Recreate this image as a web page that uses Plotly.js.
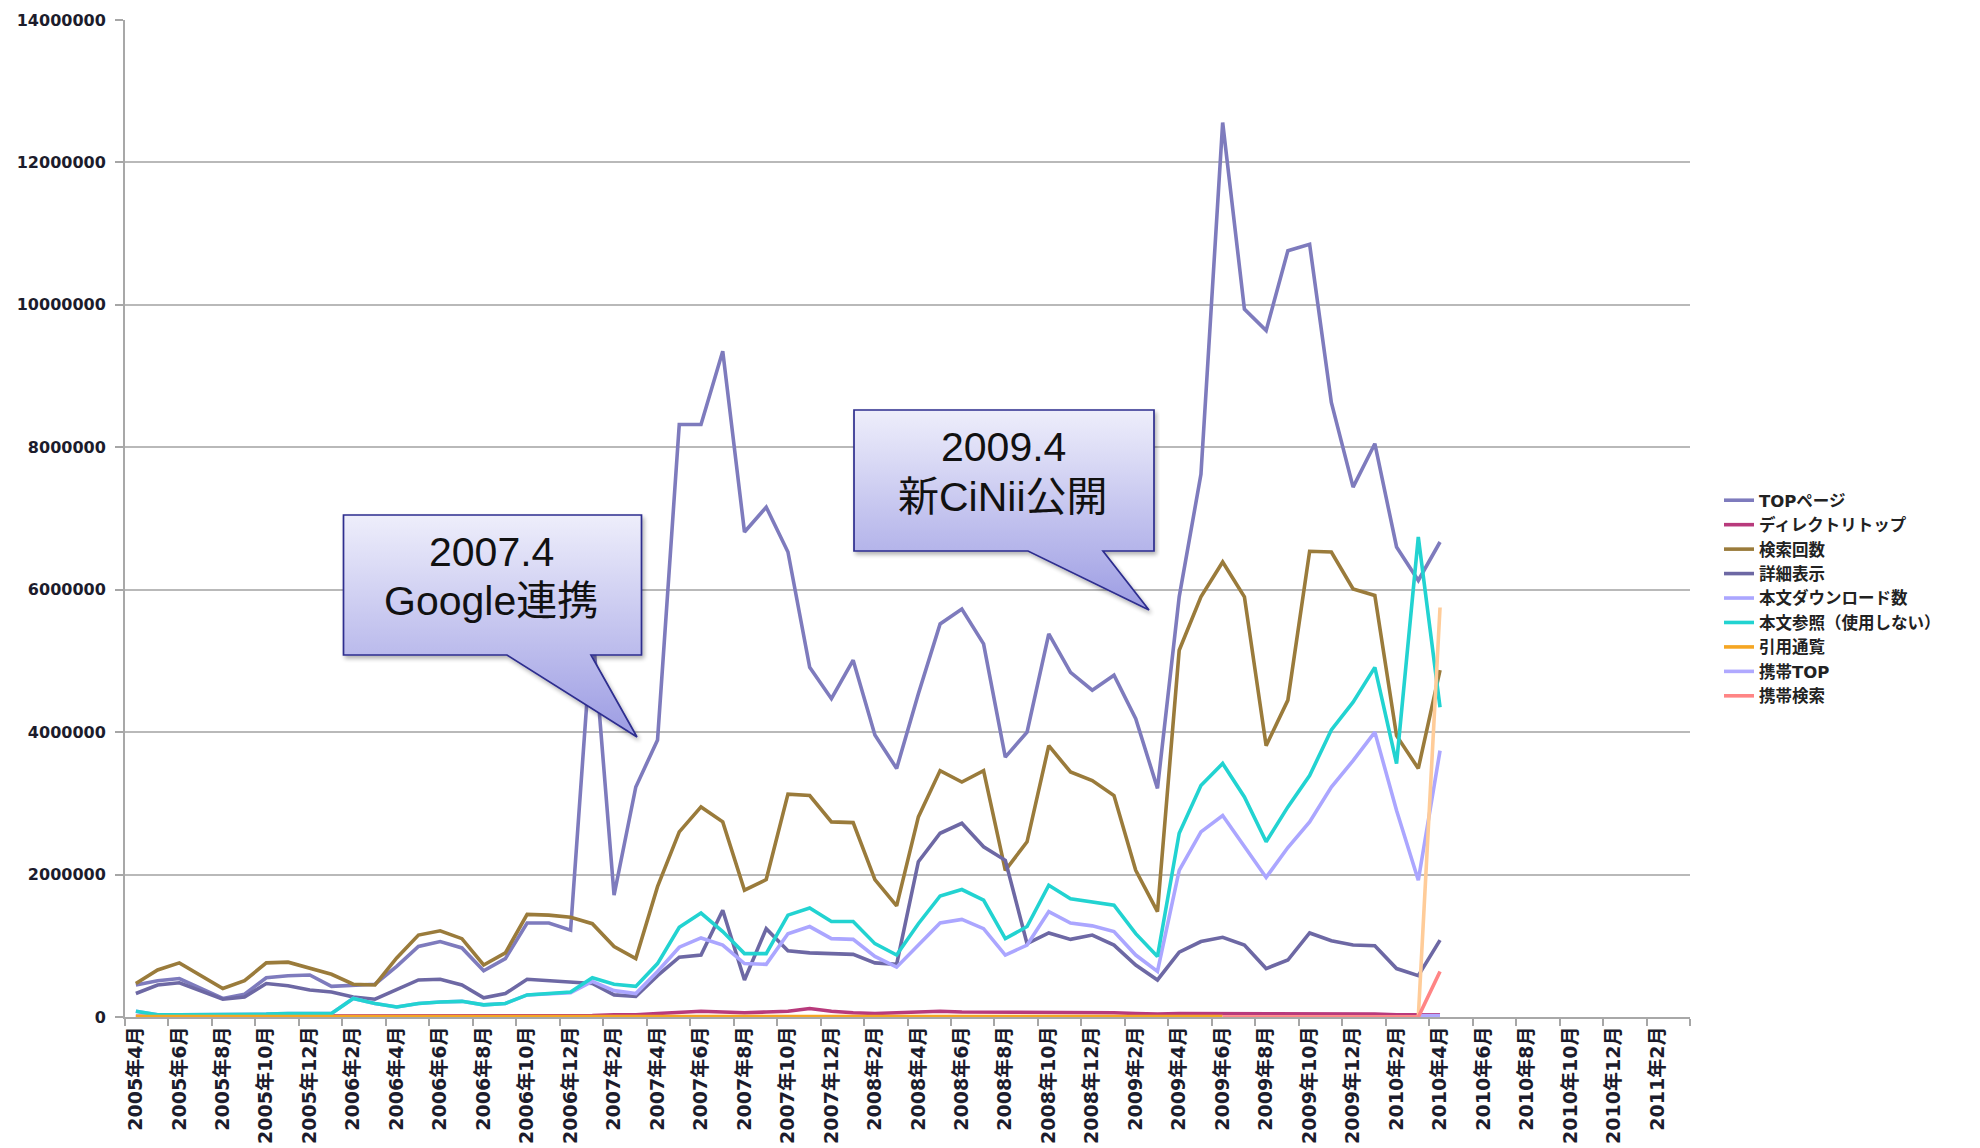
<!DOCTYPE html>
<html>
<head>
<meta charset="utf-8">
<script src="https://cdn.plot.ly/plotly-3.0.1.min.js"></script>
<style>html,body{margin:0;padding:0;background:#fff;}#chart{width:1980px;height:1148px;}</style>
</head>
<body>
<div id="chart"></div>
<script>
// ---- categories (monthly, axis runs to 2011年3月) ----
const months = [
 "2005年4月","2005年5月","2005年6月","2005年7月","2005年8月","2005年9月","2005年10月","2005年11月","2005年12月",
 "2006年1月","2006年2月","2006年3月","2006年4月","2006年5月","2006年6月","2006年7月","2006年8月","2006年9月","2006年10月","2006年11月","2006年12月",
 "2007年1月","2007年2月","2007年3月","2007年4月","2007年5月","2007年6月","2007年7月","2007年8月","2007年9月","2007年10月","2007年11月","2007年12月",
 "2008年1月","2008年2月","2008年3月","2008年4月","2008年5月","2008年6月","2008年7月","2008年8月","2008年9月","2008年10月","2008年11月","2008年12月",
 "2009年1月","2009年2月","2009年3月","2009年4月","2009年5月","2009年6月","2009年7月","2009年8月","2009年9月","2009年10月","2009年11月","2009年12月",
 "2010年1月","2010年2月","2010年3月","2010年4月","2010年5月","2010年6月","2010年7月","2010年8月","2010年9月","2010年10月","2010年11月","2010年12月",
 "2011年1月","2011年2月","2011年3月"
];

// ---- series values (2005年4月 .. 2010年4月) ----
const topPage = [
 450000,510000,540000,400000,260000,320000,550000,580000,590000,430000,
 450000,460000,710000,990000,1060000,970000,650000,820000,1320000,1320000,
 1220000,5500000,1710000,3230000,3890000,8320000,8320000,9350000,6810000,7160000,
 6530000,4910000,4470000,5010000,3960000,3490000,4540000,5520000,5730000,5240000,
 3650000,4000000,5380000,4840000,4590000,4800000,4190000,3210000,5900000,7620000,
 12560000,9940000,9640000,10760000,10850000,8630000,7440000,8050000,6600000,6130000,
 6670000
];
const directoryTop = [
 10000,10000,10000,10000,10000,10000,10000,10000,10000,10000,
 10000,10000,10000,10000,10000,10000,10000,10000,10000,10000,
 10000,20000,30000,30000,50000,70000,80000,70000,60000,70000,
 80000,120000,80000,60000,50000,60000,70000,80000,70000,70000,
 60000,60000,70000,60000,60000,60000,50000,40000,50000,50000,
 40000,40000,40000,50000,50000,40000,40000,40000,30000,30000,
 30000
];
const searchCount = [
 470000,660000,760000,580000,400000,510000,760000,770000,690000,600000,
 460000,450000,830000,1150000,1210000,1100000,730000,900000,1440000,1430000,
 1400000,1310000,990000,820000,1830000,2600000,2950000,2740000,1780000,1930000,
 3130000,3110000,2740000,2730000,1930000,1560000,2810000,3460000,3300000,3460000,
 2060000,2460000,3810000,3440000,3320000,3110000,2060000,1480000,5150000,5900000,
 6390000,5900000,3810000,4450000,6540000,6530000,6010000,5920000,3950000,3490000,
 4870000
];
const detailView = [
 330000,450000,480000,360000,250000,280000,470000,440000,380000,350000,
 280000,250000,380000,520000,530000,450000,270000,330000,530000,510000,
 480000,470000,310000,290000,580000,840000,870000,1500000,520000,1240000,
 930000,900000,890000,880000,760000,740000,2180000,2580000,2720000,2390000,
 2200000,1030000,1180000,1090000,1150000,1010000,730000,520000,910000,1060000,
 1120000,1010000,680000,800000,1180000,1070000,1010000,1000000,680000,580000,
 1080000
];
const fulltextDownload = [
 80000,30000,30000,30000,30000,30000,40000,50000,50000,50000,
 260000,190000,140000,190000,210000,220000,170000,190000,310000,330000,
 340000,500000,370000,330000,640000,980000,1110000,1010000,750000,740000,
 1170000,1270000,1100000,1090000,850000,700000,1010000,1320000,1370000,1240000,
 870000,1010000,1480000,1320000,1280000,1200000,870000,640000,2060000,2600000,
 2830000,2390000,1960000,2380000,2740000,3230000,3600000,4000000,2900000,1920000,
 3740000
];
const fulltextView = [
 80000,30000,30000,30000,30000,30000,40000,50000,50000,50000,
 260000,190000,140000,190000,210000,220000,170000,190000,310000,330000,
 350000,550000,460000,430000,750000,1260000,1460000,1200000,890000,890000,
 1430000,1530000,1340000,1340000,1030000,870000,1310000,1700000,1790000,1640000,
 1100000,1270000,1850000,1660000,1620000,1570000,1170000,850000,2580000,3250000,
 3560000,3090000,2460000,2950000,3390000,4030000,4420000,4910000,3560000,6740000,
 4350000
];
const citation = [
 5000,5000,5000,5000,5000,5000,5000,5000,5000,5000,
 5000,5000,5000,5000,5000,5000,5000,5000,5000,5000,
 5000,5000,5000,5000,5000,5000,5000,5000,5000,5000,
 5000,5000,5000,5000,5000,5000,5000,5000,5000,5000,
 5000,5000,5000,5000,5000,5000,5000,5000,5000,5000,
 5000,null,null,null,null,null,null,null,null,null,
 null
];
const citationLate = [
 null,null,null,null,null,null,null,null,null,null,
 null,null,null,null,null,null,null,null,null,null,
 null,null,null,null,null,null,null,null,null,null,
 null,null,null,null,null,null,null,null,null,null,
 null,null,null,null,null,null,null,null,null,null,
 0,0,0,0,0,0,0,0,0,0,
 5750000
];
const mobileTop = [
 null,null,null,null,null,null,null,null,null,null,
 null,null,null,null,null,null,null,null,null,null,
 null,null,null,null,null,null,null,null,null,null,
 null,null,null,null,null,null,null,null,null,null,
 null,null,null,null,null,null,null,null,null,null,
 null,null,null,null,null,null,null,null,null,20000,
 20000
];
const mobileSearch = [
 null,null,null,null,null,null,null,null,null,null,
 null,null,null,null,null,null,null,null,null,null,
 null,null,null,null,null,null,null,null,null,null,
 null,null,null,null,null,null,null,null,null,null,
 null,null,null,null,null,null,null,null,null,null,
 0,0,0,0,0,0,0,0,0,0,
 640000
];
const yTicks = [0,2000000,4000000,6000000,8000000,10000000,12000000,14000000];

// ---- styles ----
const W = 1980, H = 1148;
const M = {l:125, r:290, t:20, b:131};
const plotW = W - M.l - M.r, plotH = H - M.t - M.b;
const px2x = p => (p - M.l) / plotW;
const px2y = p => (H - M.b - p) / plotH;

const xs = months.slice(0, topPage.length);
function line(name, y, color, extra) {
  return Object.assign({
    type:'scatter', mode:'lines', name:name, x:xs, y:y,
    line:{color:color, width:3.6}, connectgaps:false, hoverinfo:'skip'
  }, extra || {});
}
const traces = [
  line('TOPページ', topPage, '#7e7bbd'),
  line('ディレクトリトップ', directoryTop, '#b83a7c'),
  line('検索回数', searchCount, '#9a7b3b'),
  line('詳細表示', detailView, '#6d68a4'),
  line('本文ダウンロード数', fulltextDownload, '#aba6ff'),
  line('本文参照（使用しない）', fulltextView, '#22d3d1'),
  line('引用通覧', citation, '#f5a623'),
  line('引用通覧', citationLate, '#ffcc99', {showlegend:false}),
  line('携帯TOP', mobileTop, '#b0a9ff'),
  line('携帯検索', mobileSearch, '#ff8585')
];

function callout(w, h, path, g1, g2) {
  const svg = '<svg xmlns="http://www.w3.org/2000/svg" width="'+w+'" height="'+h+'" viewBox="0 0 '+w+' '+h+'">'+
    '<defs><linearGradient id="g" x1="0" y1="'+g1+'" x2="0" y2="'+g2+'" gradientUnits="userSpaceOnUse">'+
    '<stop offset="0" stop-color="#eeeefb"/><stop offset="1" stop-color="#9c9ce3"/></linearGradient>'+
    '<filter id="s" x="-10%" y="-10%" width="130%" height="130%"><feGaussianBlur in="SourceAlpha" stdDeviation="2"/>'+
    '<feOffset dx="2" dy="3" result="o"/><feComponentTransfer><feFuncA type="linear" slope="0.3"/></feComponentTransfer>'+
    '<feMerge><feMergeNode/><feMergeNode in="SourceGraphic"/></feMerge></filter></defs>'+
    '<path d="'+path+'" fill="url(#g)" stroke="#2d2d8e" stroke-width="1.7" stroke-linejoin="miter" filter="url(#s)"/></svg>';
  return 'data:image/svg+xml;charset=utf-8,' + encodeURIComponent(svg);
}
// callout 1 : origin (340,512) 310x233
const c1 = {ox:340, oy:512, w:310, h:233, path:'M3.5,3 H301.5 V143 H251 L297,225 L167,143 H3.5 Z', g1:3, g2:225};
// callout 2 : origin (850,406) 310x214
const c2 = {ox:850, oy:406, w:310, h:214, path:'M4,4 H304 V145 H253 L299,204 L178,145 H4 Z', g1:4, g2:204};
const images = [c1, c2].map(c => ({
  source: callout(c.w, c.h, c.path, c.g1, c.g2),
  xref:'paper', yref:'paper', x:px2x(c.ox), y:px2y(c.oy),
  sizex:c.w/plotW, sizey:c.h/plotH, sizing:'stretch',
  xanchor:'left', yanchor:'top', layer:'above'
}));

const annFont = {family:'"Liberation Sans", Arial, "Noto Sans CJK JP", sans-serif', size:41, color:'#111'};
function note(text, px, py) {
  return {text:text, xref:'paper', yref:'paper', x:px2x(px), y:px2y(py),
          xanchor:'center', yanchor:'middle', showarrow:false, font:annFont};
}
const annotations = [
  note('2007.4', 491, 552),
  note('Google連携', 491, 601),
  note('2009.4', 1003, 447),
  note('新CiNii公開', 1003, 497)
];

const tickFont = {family:'"DejaVu Sans", "Noto Sans CJK JP", sans-serif', size:16, color:'#1c1c2c', weight:'bold'};
const xTickFont = {family:'"DejaVu Sans", "Noto Sans CJK JP", sans-serif', size:19, color:'#1c1c2c', weight:'bold'};
const layout = {
  width:W, height:H, margin:M,
  paper_bgcolor:'#ffffff', plot_bgcolor:'#ffffff',
  showlegend:true,
  legend:{x:px2x(1719), y:px2y(483), xanchor:'left', yanchor:'top',
          font:{family:'"DejaVu Sans", "Noto Sans CJK JP", sans-serif', size:16.5, color:'#222', weight:'bold'},
          bgcolor:'rgba(0,0,0,0)', borderwidth:0, tracegroupgap:0, traceorder:'normal'},
  xaxis:{type:'category', categoryorder:'array', categoryarray:months,
         range:[-0.5, months.length-0.5], tickmode:'linear', tick0:0, dtick:2,
         tickson:'boundaries', ticks:'outside', ticklen:7, tickwidth:2, tickcolor:'#a6a6a6',
         tickangle:-90, tickfont:xTickFont, showgrid:false, zeroline:false,
         showline:true, linecolor:'#a8a8a8', linewidth:2, fixedrange:true},
  yaxis:{range:[0,14000000], tickmode:'array', tickvals:yTicks, tickformat:'d',
         ticks:'outside', ticklen:8, tickwidth:2, tickcolor:'#a6a6a6', ticklabelstandoff:6,
         tickfont:tickFont, showgrid:true, gridcolor:'#b9b9b9', gridwidth:2,
         zeroline:false, showline:true, linecolor:'#a8a8a8', linewidth:2, fixedrange:true},
  images:images,
  annotations:annotations
};
Plotly.newPlot('chart', traces, layout, {staticPlot:true, displayModeBar:false});
</script>
</body>
</html>
